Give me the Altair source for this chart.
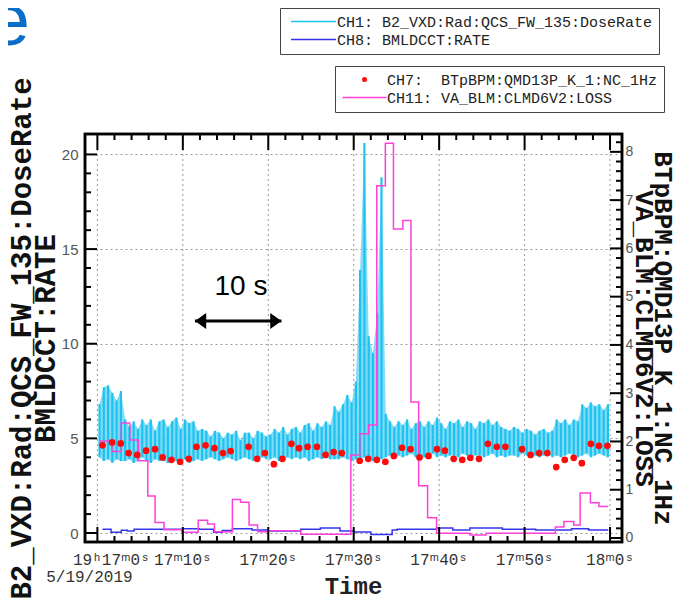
import altair as alt
import pandas as pd

# ---------------- data ----------------
CH1 = "CH1: B2_VXD:Rad:QCS_FW_135:DoseRate"
CH8 = "CH8: BMLDCCT:RATE"
CH7 = "CH7:\u00a0 BTpBPM:QMD13P_K_1:NC_1Hz"
CH11 = "CH11: VA_BLM:CLMD6V2:LOSS"

# dose rate: low / high extreme of each 0.5 s sample (seconds after 19h17m0s)
DOSE_DT = 0.5
dose_hi = [6.8, 7.7, 7.8, 7.4, 7.0, 7.5, 6.0, 5.6, 5.9, 5.5,
           6.0, 5.7, 6.0, 5.4, 5.9, 6.0, 5.6, 5.9, 6.1, 5.5,
           6.0, 5.8, 5.9, 5.4, 5.5, 5.4, 5.1, 5.4, 5.3, 5.0,
           5.3, 5.2, 5.4, 4.9, 5.3, 5.3, 5.0, 5.4, 5.3, 5.1,
           5.2, 5.5, 5.3, 5.6, 5.2, 5.5, 5.6, 5.3, 5.7, 5.8,
           5.4, 5.8, 5.6, 5.9, 5.7, 6.7, 6.4, 6.8, 7.3, 6.9,
           8.0, 13.9, 20.6, 10.4, 9.5, 11.6, 18.8, 6.3, 5.9, 5.6,
           5.9, 5.7, 6.0, 5.5, 5.8, 5.9, 5.6, 5.9, 5.7, 6.1,
           5.8, 5.5, 5.9, 5.8, 6.0, 5.6, 5.9, 5.8, 5.5, 5.9,
           5.8, 6.0, 5.7, 5.9, 5.6, 5.5, 5.4, 5.6, 5.5, 5.3,
           5.5, 5.4, 5.2, 5.4, 5.5, 5.3, 5.4, 6.0, 5.8, 6.0,
           5.7, 6.0, 5.9, 6.8, 6.6, 6.9, 6.7, 6.8, 6.5, 6.8]
dose_lo = [4.0, 3.8, 3.9, 3.7, 3.9, 3.8, 3.8, 3.9, 3.7, 3.8,
           4.0, 3.8, 3.7, 3.9, 3.8, 3.8, 3.7, 3.9, 3.8, 3.8,
           3.9, 3.7, 3.8, 3.9, 3.8, 3.9, 4.0, 3.9, 3.8, 3.9,
           4.0, 3.9, 3.8, 3.9, 4.0, 3.9, 3.8, 3.9, 4.0, 3.9,
           3.9, 4.0, 3.8, 3.9, 4.0, 3.9, 4.0, 3.9, 4.0, 3.8,
           3.9, 4.0, 3.9, 4.0, 3.9, 3.9, 3.9, 4.0, 3.9, 3.8,
           3.9, 3.9, 4.0, 3.9, 3.8, 3.9, 3.9, 4.0, 4.1, 4.0,
           4.1, 4.0, 4.1, 4.2, 4.0, 4.1, 4.0, 4.1, 4.2, 4.0,
           4.1, 4.0, 4.1, 4.1, 4.0, 4.2, 4.1, 4.0, 4.1, 4.1,
           4.0, 4.1, 4.2, 4.0, 4.1, 4.0, 4.1, 4.1, 4.0, 4.2,
           4.1, 4.0, 4.1, 4.0, 4.1, 4.2, 4.0, 4.1, 4.0, 4.1,
           4.2, 4.1, 4.0, 4.1, 4.2, 4.0, 4.1, 4.2, 4.1, 4.0]

# BMLDCCT:RATE (step)
cct_t = [0.6, 1.6, 2.8, 3.5, 4.3, 10.0, 11.9, 13.6, 14.6, 15.8, 18.1, 20.0, 23.8,
         26.1, 28.4, 30.0, 32.0, 34.5, 35.1, 39.7, 41.6, 43.6, 47.4, 51.3, 55.5,
         57.5, 59.8]
cct_v = [0.2, 0.04, 0.15, 0.1, 0.2, 0.23, 0.2, 0.04, 0.13, 0.23, 0.16, 0.1, 0.2,
         0.27, 0.1, 0.05, -0.08, 0.16, 0.2, 0.27, 0.16, 0.27, 0.2, 0.16, 0.23,
         0.16, 0.16]

# VA_BLM:CLMD6V2:LOSS (step, right axis)
loss_t = [0.3, 1.7, 2.8, 3.8, 4.8, 5.9, 6.75, 7.8, 9.9, 11.8,
          12.9, 13.7, 15.8, 16.75, 17.75, 18.75, 19.9, 23.8, 29.66, 30.7,
          31.75, 32.7, 33.7, 34.65, 35.75, 36.7, 37.6, 38.65, 39.7, 43.6,
          45.5, 53.6, 54.6, 55.75, 56.5, 57.7, 58.7, 59.8]
loss_v = [2.01, 1.79, 2.38, 2.03, 1.6, 0.87, 0.32, 0.17, 0.12, 0.37,
          0.29, 0.13, 0.8, 0.74, 0.27, 0.13, 0.15, 0.08, 1.72, 2.16,
          2.34, 7.3, 8.18, 6.4, 6.58, 2.82, 1.08, 0.42, 0.1, 0.06,
          0.1, 0.23, 0.34, 0.27, 0.93, 0.73, 0.65, 0.65]

# BTpBPM:QMD13P_K_1:NC_1Hz (dots, right axis)
bpm_t = [0.6, 1.72, 2.73, 3.65, 4.66, 5.7, 6.75, 7.63, 8.67, 9.68,
         10.7, 11.6, 12.66, 13.7, 14.7, 15.6, 17.7, 18.7, 19.6, 20.66,
         21.66, 22.7, 23.6, 24.6, 25.7, 26.7, 27.65, 28.6, 30.7, 31.7,
         32.7, 33.7, 34.7, 35.65, 36.65, 37.7, 38.75, 39.75, 40.67, 41.7,
         42.7, 43.65, 44.66, 45.7, 46.75, 47.75, 49.7, 50.7, 51.7, 52.66,
         53.7, 54.7, 55.75, 56.7, 57.76, 58.7, 59.7]
bpm_v = [1.92, 1.98, 1.96, 1.76, 1.72, 1.81, 1.84, 1.67, 1.62, 1.58,
         1.64, 1.89, 1.92, 1.86, 1.76, 1.8, 1.89, 1.64, 1.76, 1.53,
         1.64, 1.95, 1.86, 1.89, 1.89, 1.72, 1.78, 1.76, 1.6, 1.64,
         1.62, 1.58, 1.7, 1.87, 1.84, 1.67, 1.7, 1.84, 1.81, 1.64,
         1.62, 1.66, 1.64, 1.95, 1.89, 1.89, 1.84, 1.72, 1.76, 1.76,
         1.47, 1.62, 1.66, 1.55, 1.95, 1.91, 1.91]

# axes / ticks
x_major = [0, 10, 20, 30, 40, 50, 60]
x_minor = [t for t in range(0, 61, 2) if t % 10]
x_labels = ["19\u02b017\u1d500\u02e2", "17\u1d5010\u02e2", "17\u1d5020\u02e2",
            "17\u1d5030\u02e2", "17\u1d5040\u02e2", "17\u1d5050\u02e2", "18\u1d500\u02e2"]
date_text = ["5/19/2019"]
date_t = [0]
x_title = ["Time"]
yl_major = [0, 5, 10, 15, 20]
yl_minor = [v for v in range(0, 21) if v % 5]
yr_major = [0, 1, 2, 3, 4, 5, 6, 7, 8]
yr_minor = [round(i * 0.2, 1) for i in range(0, 42) if i % 5]

left_title = ["B2_VXD:Rad:QCS_FW_135:DoseRate", "BMLDCCT:RATE"]
right_title = ["BTpBPM:QMD13P_K_1:NC_1Hz", "VA_BLM:CLMD6V2:LOSS"]
corner_text = ["e"]

# annotation: "10 s" with a double arrow
note_text = ["10 s"]
note_t = [16.8]
note_v = [13.0]
arrow_t = [11.42, 21.54]
arrow_v = [11.2, 11.2]

# ---------------- frames ----------------
dose = pd.DataFrame({"t": [k * DOSE_DT + DOSE_DT / 2 for k in range(len(dose_hi))],
                     "lo": dose_lo, "hi": dose_hi, "s": CH1})
cct = pd.DataFrame({"t": cct_t, "v": cct_v, "s": CH8})
loss = pd.DataFrame({"t": loss_t, "v": loss_v})
bpm = pd.DataFrame({"t": bpm_t, "v": bpm_v, "s": CH7})

W, H = 537, 408
X = alt.Scale(domain=[-1.45, 61.4], nice=False, zero=False)
YL = alt.Scale(domain=[-0.475, 21.08], nice=False, zero=False)
YR = alt.Scale(domain=[-0.083, 8.37], nice=False, zero=False)

CYAN, BAND, BLUE, MAG, RED = "#1CC3F0", "#6FD5F5", "#3535EE", "#FF40D8", "#FF0A0A"
GRID = "#9a9a9a"

yl_axis = alt.Axis(orient="left", values=yl_major, grid=True, gridColor=GRID,
                   gridDash=[2, 3], gridWidth=1, ticks=False, domain=False,
                   labelFont="Liberation Sans", labelFontSize=15, labelColor="#555",
                   labelPadding=7, labelFlush=False,
                   title=left_title, titleFont="Liberation Mono", titleFontSize=29,
                   titleFontWeight="bold", titleColor="#111", titleLineHeight=24,
                   titleX=-64, titleY=H / 2, titleAngle=270, titleBaseline="middle",
                   titleAlign="center")
yr_axis = alt.Axis(orient="right", values=yr_major, grid=False, ticks=False, domain=False,
                   labelFont="Liberation Sans", labelFontSize=14, labelColor="#555",
                   labelPadding=3, labelFlush=False,
                   title=right_title, titleFont="Liberation Mono", titleFontSize=26,
                   titleFontWeight="bold", titleColor="#111", titleLineHeight=19,
                   titleX=40, titleY=H / 2, titleAngle=90, titleBaseline="middle",
                   titleAlign="center")

leg_common = dict(orient="none", title=None, direction="vertical",
                  labelFont="Liberation Mono", labelFontSize=15, labelColor="#222",
                  labelLimit=600, padding=6, rowPadding=2, strokeColor="#444",
                  fillColor="white")
legend1 = alt.Legend(legendX=195, legendY=-126, symbolType="M-9,0H9", symbolSize=25,
                     symbolStrokeWidth=1.5, symbolOffset=20, labelOffset=16, **leg_common)
legend2 = alt.Legend(legendX=250, legendY=-68, symbolSize=25, symbolOffset=16,
                     labelOffset=15, **leg_common)

stroke_scale = alt.Scale(domain=[CH1, CH8], range=[CYAN, BLUE])
color_scale = alt.Scale(domain=[CH7, CH11], range=[RED, MAG])
shape_scale = alt.Scale(domain=[CH7, CH11], range=["circle", "M-8.8,-0.3H8.8V0.3H-8.8Z"])

xe = alt.X("t:Q", scale=X, axis=None)

# vertical dotted grid at the major time ticks
xgrid = alt.Chart(pd.DataFrame({"t": x_major})).mark_rule(
    color=GRID, strokeDash=[2, 3], strokeWidth=1).encode(x=xe)

band_layer = alt.Chart(dose).mark_area(color=BAND, opacity=0.85).encode(
    x=xe, y=alt.Y("lo:Q", scale=YL, axis=yl_axis), y2="hi:Q")
dose_layer = alt.Chart(dose).mark_rule(strokeWidth=2.2).encode(
    x=xe, y=alt.Y("lo:Q", scale=YL, axis=None), y2="hi:Q",
    stroke=alt.Stroke("s:N", scale=stroke_scale, legend=legend1))
cct_layer = alt.Chart(cct).mark_line(interpolate="step-after", strokeWidth=1.5).encode(
    x=xe, y=alt.Y("v:Q", scale=YL, axis=None),
    stroke=alt.Stroke("s:N", scale=stroke_scale, legend=legend1))
loss_layer = alt.Chart(loss).mark_line(interpolate="step-after", strokeWidth=1.5,
                                       color=MAG).encode(
    x=xe, y=alt.Y("v:Q", scale=YR, axis=None))
bpm_layer = alt.Chart(bpm).mark_point(filled=True, size=45, opacity=1).encode(
    x=xe, y=alt.Y("v:Q", scale=YR, axis=yr_axis),
    color=alt.Color("s:N", scale=color_scale, legend=legend2),
    shape=alt.Shape("s:N", scale=shape_scale, legend=legend2))


def xticks(vals, top, length):
    df = pd.DataFrame({"t": vals})
    y0, y1 = (0, length) if top else (H, H - length)
    return alt.Chart(df).mark_rule(color="black", strokeWidth=2).encode(
        x=xe, y=alt.value(y0), y2=alt.value(y1))


def yticks(vals, scale, right, length):
    df = pd.DataFrame({"v": vals})
    x0, x1 = (W, W - length) if right else (0, length)
    return alt.Chart(df).mark_rule(color="black", strokeWidth=2).encode(
        y=alt.Y("v:Q", scale=scale, axis=None), x=alt.value(x0), x2=alt.value(x1))


tick_layers = [
    xticks(x_major, False, 15), xticks(x_minor, False, 6),
    xticks(x_major, True, 16), xticks(x_minor, True, 6),
    yticks(yl_major, YL, False, 12), yticks(yl_minor, YL, False, 6),
    yticks(yr_major, YR, True, 12), yticks(yr_minor, YR, True, 6),
]

frame = alt.Chart(pd.DataFrame({"f": [0]})).mark_rect(
    fillOpacity=0, stroke="black", strokeWidth=2.5).encode(
    x=alt.value(0), x2=alt.value(W), y=alt.value(0), y2=alt.value(H))

lab_style = dict(font="Liberation Mono", fontSize=16, color="#333", align="center",
                 baseline="top")
xlab0 = alt.Chart(pd.DataFrame({"t": x_major[:1], "txt": x_labels[:1]})).mark_text(
    dx=14, **lab_style).encode(x=xe, y=alt.value(H + 10), text="txt:N")
xlab = alt.Chart(pd.DataFrame({"t": x_major[1:], "txt": x_labels[1:]})).mark_text(
    **lab_style).encode(x=xe, y=alt.value(H + 10), text="txt:N")
date = alt.Chart(pd.DataFrame({"t": date_t, "txt": date_text})).mark_text(
    dx=-8, **lab_style).encode(x=xe, y=alt.value(H + 27), text="txt:N")
xtitle = alt.Chart(pd.DataFrame({"txt": x_title})).mark_text(
    font="Liberation Mono", fontSize=24, fontWeight="bold", color="#222",
    align="center", baseline="middle").encode(
    x=alt.value(W / 2), y=alt.value(H + 45), text="txt:N")

corner = alt.Chart(pd.DataFrame({"txt": corner_text})).mark_text(
    font="Liberation Sans", fontSize=75, color="#0b6fc7", align="right",
    baseline="alphabetic").encode(x=alt.value(-55), y=alt.value(-89), text="txt:N")

note = alt.Chart(pd.DataFrame({"t": note_t, "v": note_v, "txt": note_text})).mark_text(
    font="Liberation Sans", fontSize=28, color="black", align="center",
    baseline="middle").encode(x=xe, y=alt.Y("v:Q", scale=YL, axis=None), text="txt:N")
arrow_df = pd.DataFrame({"t": [arrow_t[0]], "t2": [arrow_t[1]], "v": [arrow_v[0]]})
arrow_line = alt.Chart(arrow_df).mark_rule(color="black", strokeWidth=3).encode(
    x=xe, x2="t2:Q", y=alt.Y("v:Q", scale=YL, axis=None))
head_l = alt.Chart(pd.DataFrame({"t": [arrow_t[0]], "v": [arrow_v[0]]})).mark_point(
    filled=True, color="black", opacity=1, size=256, shape="M0,0L1.4,-1L1.4,1Z").encode(
    x=xe, y=alt.Y("v:Q", scale=YL, axis=None))
head_r = alt.Chart(pd.DataFrame({"t": [arrow_t[1]], "v": [arrow_v[1]]})).mark_point(
    filled=True, color="black", opacity=1, size=256, shape="M0,0L-1.4,-1L-1.4,1Z").encode(
    x=xe, y=alt.Y("v:Q", scale=YL, axis=None))

chart = alt.layer(
    xgrid, band_layer, dose_layer, cct_layer, loss_layer, bpm_layer,
    *tick_layers, frame, xlab0, xlab, date, xtitle, corner, note, arrow_line,
    head_l, head_r
).resolve_scale(y="independent").properties(
    width=W, height=H,
    autosize=alt.AutoSizeParams(type="none"),
    padding={"left": 77, "top": 126, "right": 53, "bottom": 58},
    background="white",
).configure_view(stroke="black", strokeWidth=2.5)

chart.save("out.html", embed_options={"renderer": "svg", "actions": False})
